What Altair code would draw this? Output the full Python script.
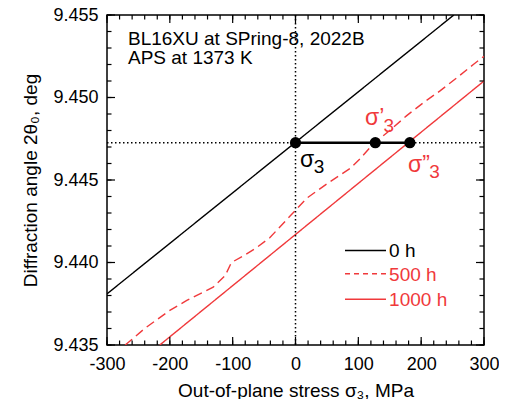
import altair as alt
import pandas as pd
import numpy as np

FONT = "Liberation Sans"
RED = "#f0393b"
W, H = 377, 330

# ---- data ----
h0_x = [-300, 252]
h0_y = [9.4381, 9.4550]
h500_x = [-271, -240, -200, -173, -131, -112, -102, -83, -62, -41, -9, 18, 55, 87,
          103, 124, 150, 177, 204, 230, 257, 283, 300]
h500_y = [9.4350, 9.4360, 9.4371, 9.4377, 9.4385, 9.4392, 9.4400, 9.4404, 9.4409,
          9.4415, 9.4428, 9.4439, 9.4449, 9.4457, 9.4463, 9.4472, 9.4480, 9.4489,
          9.4497, 9.4504, 9.4512, 9.4520, 9.4525]
h1000_x = [-216, 300]
h1000_y = [9.4350, 9.4510]

ref_angle = 9.44726
sigma_x = [0, 127, 182]
sigma_names = ["σ3", "σ'3", "σ''3"]

series_names = ["0 h", "500 h", "1000 h"]
series_colors = ["black", RED, RED]

x_major = list(range(-300, 301, 100))
x_minor = list(range(-300, 301, 20))
y_major = [9.435, 9.440, 9.445, 9.450, 9.455]
y_minor = [round(9.435 + 0.001 * i, 3) for i in range(21)]

# ---- scales / axes ----
xs = alt.Scale(domain=[-300, 300], nice=False, zero=False)
ys = alt.Scale(domain=[9.435, 9.455], nice=False, zero=False)

x_axis = alt.Axis(values=x_major, ticks=False, domain=False, grid=False,
                  labelOverlap=False, labelFlush=False,
                  labelExpr="datum.value < 0 ? '-' + format(-datum.value, 'd') : format(datum.value, 'd')",
                  labelPadding=10, title="Out-of-plane stress σ₃, MPa",
                  titlePadding=8)
y_axis = alt.Axis(values=y_major, format=".3f", ticks=False, domain=False, grid=False,
                  labelOverlap=False, labelFlush=False,
                  labelPadding=9, title="Diffraction angle 2θ₀, deg",
                  titlePadding=12)

def X(field="x"):
    return alt.X(f"{field}:Q", scale=xs, axis=x_axis)

def Y(field="y"):
    return alt.Y(f"{field}:Q", scale=ys, axis=y_axis)

lines_df = pd.concat([
    pd.DataFrame({"x": h0_x, "y": h0_y, "s": series_names[0]}),
    pd.DataFrame({"x": h500_x, "y": h500_y, "s": series_names[1]}),
    pd.DataFrame({"x": h1000_x, "y": h1000_y, "s": series_names[2]}),
])

color = alt.Color("s:N", scale=alt.Scale(domain=series_names, range=series_colors), legend=None)
dash = alt.StrokeDash("s:N", scale=alt.Scale(domain=series_names, range=[[1, 0], [9, 5], [1, 0]]), legend=None)

lines = alt.Chart(lines_df).mark_line(strokeWidth=1.4, clip=True).encode(
    x=X(), y=Y(), color=color, strokeDash=dash, detail="s:N"
)

# dotted reference lines
hdot = alt.Chart(pd.DataFrame({"y": [ref_angle]})).mark_rule(
    color="black", strokeWidth=1.5, strokeDash=[1.5, 2.5]).encode(
    y=Y(), x=alt.value(0), x2=alt.value(W))
vdot = alt.Chart(pd.DataFrame({"x": [0]})).mark_rule(
    color="black", strokeWidth=1.5, strokeDash=[1.5, 2.5]).encode(
    x=X(), y=alt.value(0), y2=alt.value(H))

pts_df = pd.DataFrame({"x": sigma_x, "y": [ref_angle] * 3, "name": sigma_names})
connector = alt.Chart(pd.DataFrame({"x": [sigma_x[0]], "x2": [sigma_x[-1]], "y": [ref_angle]})).mark_rule(
    color="black", strokeWidth=2.5).encode(x=X(), x2="x2:Q", y=Y())
dots = alt.Chart(pts_df).mark_circle(size=125, color="black", opacity=1).encode(x=X(), y=Y())

# ticks (inward, on all four sides)
def tick_layer(vals, axis_ch, length):
    df = pd.DataFrame({"v": vals})
    base = alt.Chart(df).mark_rule(color="black", strokeWidth=1.2)
    if axis_ch == "x":
        b = base.encode(x=X("v"), y=alt.value(H), y2=alt.value(H - length))
        t = base.encode(x=X("v"), y=alt.value(0), y2=alt.value(length))
    else:
        b = base.encode(y=Y("v"), x=alt.value(0), x2=alt.value(length))
        t = base.encode(y=Y("v"), x=alt.value(W), x2=alt.value(W - length))
    return [b, t]

ticks = (tick_layer(x_major, "x", 8) + tick_layer(x_minor, "x", 4.5)
         + tick_layer(y_major, "y", 8) + tick_layer(y_minor, "y", 4.5))

# annotations
def txt(x, y, s, col="black", size=19, align="left", baseline="alphabetic"):
    return alt.Chart(pd.DataFrame({"x": [x], "y": [y], "t": [s]})).mark_text(
        font=FONT, fontSize=size, color=col, align=align, baseline=baseline).encode(
        x=X(), y=Y(), text="t:N")

ann = [
    txt(-266.6, 9.45318, "BL16XU at SPring-8, 2022B", size=19),
    txt(-266.6, 9.45201, "APS at 1373 K", size=19),
    txt(7.2, 9.44579, "σ", size=23),
    txt(29.0, 9.44545, "3"),
    txt(110.6, 9.44833, "σ’", col=RED, size=23),
    txt(140.0, 9.44790, "3", col=RED),
    txt(179.0, 9.44548, "σ”", col=RED, size=23),
    txt(213.0, 9.44515, "3", col=RED),
]

# legend (manual, inside plot)
leg_y = [9.44073, 9.43932, 9.43777]
leg_df = pd.DataFrame({"x": [78.8] * 3, "x2": [144] * 3, "y": leg_y, "s": series_names,
                       "tx": [149] * 3})
leg_lines = alt.Chart(leg_df).mark_rule(strokeWidth=1.4).encode(
    x=X(), x2="x2:Q", y=Y(), color=color,
    strokeDash=alt.StrokeDash("s:N", scale=alt.Scale(domain=series_names, range=[[1, 0], [5, 4], [1, 0]]), legend=None))
leg_text = alt.Chart(leg_df).mark_text(font=FONT, fontSize=19, align="left", baseline="middle", dy=1).encode(
    x=X("tx"), y=Y(), text="s:N", color=color)

chart = alt.layer(
    lines, hdot, vdot, *ticks, connector, dots, *ann, leg_lines, leg_text
).resolve_scale(color="independent", strokeDash="independent").properties(
    width=W, height=H,
    autosize=alt.AutoSizeParams(type="none"),
    padding={"left": 99, "top": 7, "right": 15, "bottom": 54},
).configure_view(stroke="black", strokeWidth=1.5).configure_axis(
    labelFont=FONT, labelFontSize=18, labelColor="black",
    titleFont=FONT, titleFontSize=19, titleFontWeight="normal", titleColor="black",
)

chart.save("out.html", embed_options={"renderer": "svg", "actions": False})
